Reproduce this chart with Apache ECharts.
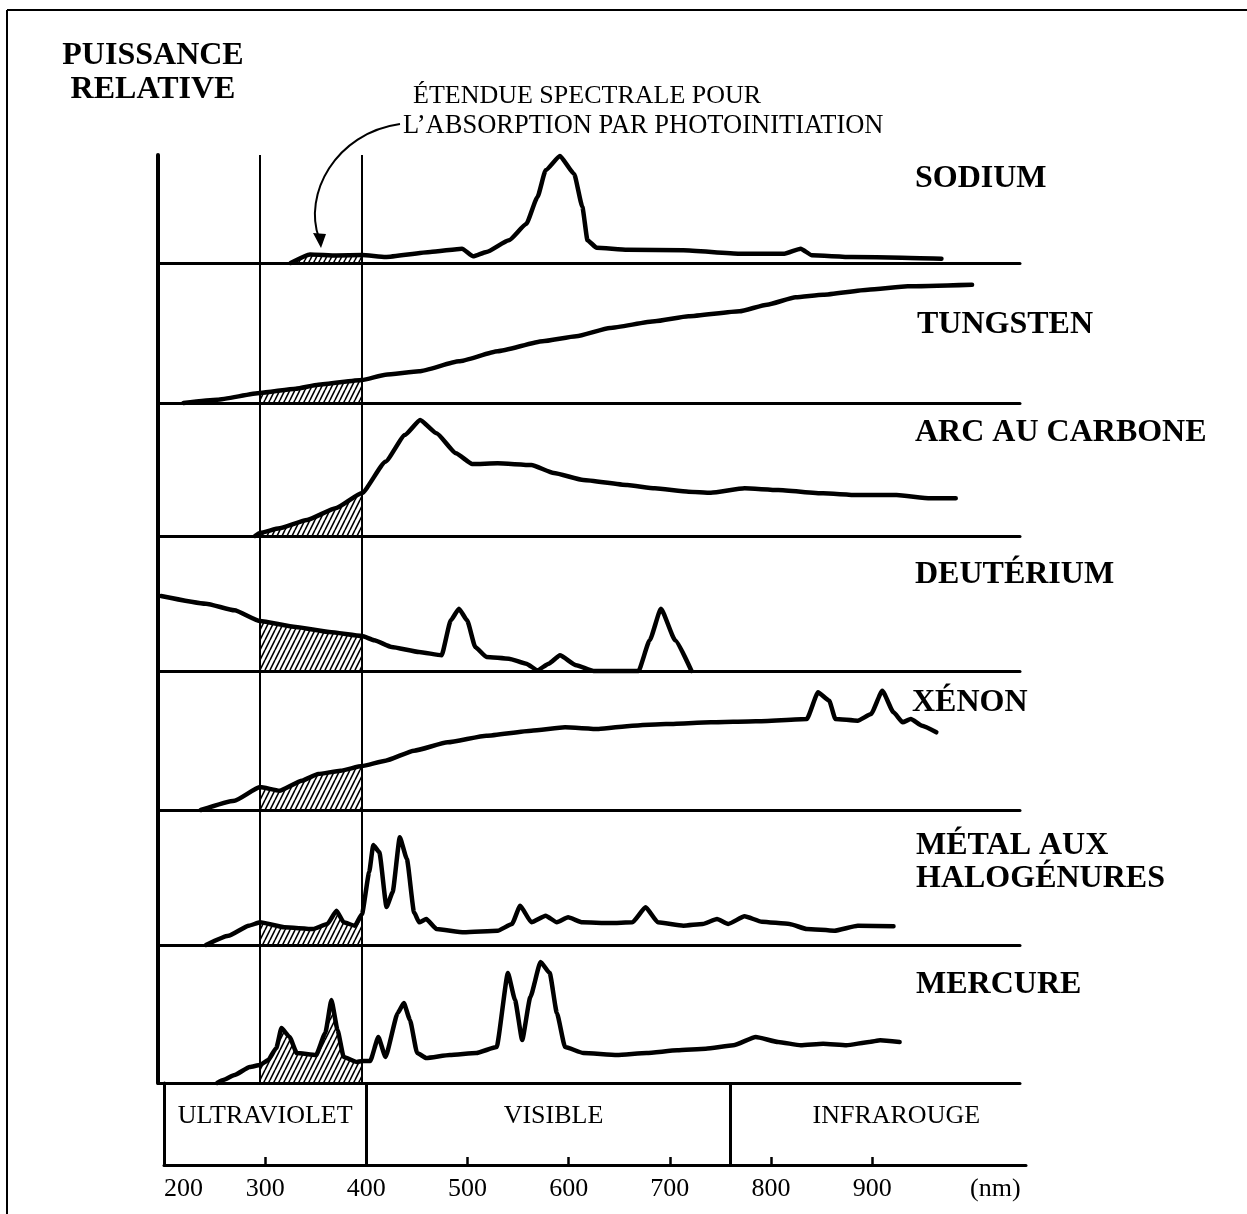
<!DOCTYPE html>
<html>
<head>
<meta charset="utf-8">
<title>Puissance relative des lampes</title>
<script src="https://cdn.jsdelivr.net/npm/echarts@6/dist/echarts.min.js"></script>
<style>
html, body { margin: 0; padding: 0; background: #fff; }
#chart { width: 1247px; height: 1214px; }
</style>
</head>
<body>
<div id="chart"></div>
<script>
// spectres : [longueur d'onde (nm), puissance relative]
var sodium = [[330,0],[349,8.5],[375,7.5],[400,8],[423,6],[467,11],[498,14.3],[509,6.7],[522,11],[544,22.7],[561,39],[572,66],[580,92.7],[594,107],[608,89],[616,56],[621,22.7],[630,15.3],[660,13.3],[715,12.7],[770,9.3],[814,9.3],[830,14.3],[841,7.7],[880,6],[929,5.3],[968,4.3]];
var tungsten = [[225,0],[258,3.3],[300,10],[335,14.3],[357,18.3],[400,23],[423,28.3],[456,31.7],[495,41.7],[533,51.7],[577,61.7],[610,66.7],[643,75],[687,81.7],[720,86.7],[770,91.7],[797,98.3],[825,105.7],[852,108.3],[896,113.3],[935,116.7],[998,118.3]];
var arc = [[295,0],[300,3],[319,7.7],[346,16],[374,27.7],[400,43],[423,74.3],[442,101],[457,116],[473,102.7],[492,82.7],[508,72],[533,72.7],[566,71],[588,63],[617,56],[660,51],[687,47.7],[720,44.3],[742,43.3],[775,47.7],[808,46],[852,42.7],[885,41],[924,41],[957,37.7],[982,37.7]];
var deuterium = [[203,75],[247,67.3],[275,60.7],[300,50],[335,44],[368,39],[400,35],[412,30.7],[429,24],[456,19],[478,15.7],[487,50.7],[495,62.3],[503,50.7],[511,24],[522,14],[544,12.3],[561,7.3],[572,0.7],[583,7.3],[594,15.7],[610,5.7],[627,0],[671,0],[682,30.7],[693,62.3],[707,30.7],[723,0]];
var xenon = [[242,0],[275,9.3],[300,23],[319,19.3],[341,29.3],[357,36],[379,39.3],[400,44],[423,49.3],[451,59.3],[484,67.7],[522,74.3],[566,79.3],[599,82.7],[632,81],[665,84.3],[698,86],[742,87.7],[786,88.7],[836,91],[847,117.7],[858,109.3],[864,91],[886,89.3],[899,96],[910,119.3],[921,97.7],[930,87.7],[938,91],[949,84.3],[963,77.7]];
var metalHalide = [[247,0],[269,9.3],[289,19.3],[300,22.7],[324,17.7],[352,16],[366,21],[375,34.3],[382,22.7],[393,19.3],[400,31],[407,72.7],[411,100],[417,92.7],[424,38],[430,52.7],[437,107.7],[444,86],[451,32.7],[456,22.7],[463,26],[473,16],[500,12.7],[533,14.3],[547,21],[555,39.3],[566,22.7],[580,29.3],[591,22.7],[602,27.7],[616,22.7],[643,22],[665,22.7],[678,37.7],[690,22.7],[715,19.3],[734,21],[748,26],[759,21],[775,28.7],[792,23.3],[819,21],[836,16],[863,14.3],[886,19.3],[921,18.7]];
var mercury = [[258,0],[264,3],[275,8],[290,16],[300,18],[308,23],[316,35],[321,55],[329,46],[336,30],[355,28],[364,50],[370,83],[376,53],[382,26],[395,21],[400,22],[408,22],[416,46],[423,26],[435,70],[441,80],[447,63],[454,30],[463,25],[486,28],[512,30],[532,36],[543,110],[550,83],[557,43],[565,86],[575,121],[584,110],[591,70],[599,36],[617,30],[650,28],[679,30],[709,32.7],[737,34.3],[764,37.7],[786,46],[808,41],[830,37.7],[852,39.3],[875,37.7],[897,41],[908,42.7],[927,41]];

var lampNames = ['SODIUM', 'TUNGSTEN', 'ARC AU CARBONE', 'DEUTÉRIUM', 'XÉNON', 'MÉTAL AUX\nHALOGÉNURES', 'MERCURE'];
var photoRange = [300, 400];          // étendue spectrale pour la photoinitiation
var bandEdges = [200, 400, 760, 1052];
var bandNames = ['ULTRAVIOLET', 'VISIBLE', 'INFRAROUGE'];
var tickValues = [300, 400, 500, 600, 700, 800, 900];
var labelValues = [200, 300, 400, 500, 600, 700, 800, 900];

// mise en page des panneaux : [haut, hauteur]
var panelBox = [[155,108],[263,140],[403,133],[536,135],[671,139],[810,135],[945,138]];
var nameY = [179, 325, 433, 575, 703, 862, 985];
var nameX = [915, 917, 915, 915, 912, 916, 916];
var bandOffset = [[0, -8], [5, -8], [18, -8]];

var serif = '"Liberation Serif", "Times New Roman", serif';

// motif hachuré
var hatch = document.createElement('canvas');
hatch.width = 5; hatch.height = 10;
var hc = hatch.getContext('2d');
hc.strokeStyle = '#000';
hc.lineWidth = 1.6;
hc.beginPath();
hc.moveTo(0, 10); hc.lineTo(5, 0);
hc.moveTo(-5, 10); hc.lineTo(0, 0);
hc.moveTo(5, 10); hc.lineTo(10, 0);
hc.stroke();

var panels = [sodium, tungsten, arc, deuterium, xenon, metalHalide, mercury];
var grids = [], xAxes = [], yAxes = [], series = [];

panels.forEach(function (data, i) {
    grids.push({ left: 158, width: 862, top: panelBox[i][0], height: panelBox[i][1] });
    xAxes.push({
        gridIndex: i, type: 'value', min: 200, max: 1045,
        axisLine: { lineStyle: { color: '#000', width: 3 } },
        axisTick: { show: false }, axisLabel: { show: false }, splitLine: { show: false }
    });
    yAxes.push({
        gridIndex: i, type: 'value', min: 0, max: panelBox[i][1],
        axisLine: { show: true, lineStyle: { color: '#000', width: 4 } },
        axisTick: { show: false }, axisLabel: { show: false }, splitLine: { show: false }
    });
    series.push({
        type: 'line', xAxisIndex: i, yAxisIndex: i, data: data,
        showSymbol: false, smooth: 0.15, smoothMonotone: 'x', clip: false, z: 3,
        lineStyle: { color: '#000', width: 4.5, join: 'round', cap: 'round' },
        markLine: {
            silent: true, symbol: ['none', 'none'], label: { show: false },
            lineStyle: { color: '#000', width: 2, type: 'solid' },
            data: photoRange.map(function (v) { return { xAxis: v }; })
        }
    });
    series.push({
        type: 'line', xAxisIndex: i, yAxisIndex: i,
        data: data.filter(function (p) { return p[0] >= photoRange[0] && p[0] <= photoRange[1]; }),
        showSymbol: false, smooth: 0.15, smoothMonotone: 'x', z: 2,
        lineStyle: { width: 0 },
        areaStyle: { color: { image: hatch, repeat: 'repeat' }, opacity: 1 }
    });
});

// bande UV / visible / IR avec l'axe des longueurs d'onde
grids.push({ left: 164, width: 862, top: 1083, height: 82 });
xAxes.push({
    gridIndex: 7, type: 'value', min: 200, max: 1052,
    axisLine: { lineStyle: { color: '#000', width: 3 } },
    axisTick: { inside: true, length: 8, customValues: tickValues, lineStyle: { color: '#000', width: 2.5 } },
    axisLabel: { customValues: labelValues, alignMinLabel: 'left', margin: 11, color: '#000', fontSize: 26, fontFamily: serif },
    splitLine: { show: false }
});
yAxes.push({
    gridIndex: 7, type: 'value', min: 0, max: 1,
    axisLine: { show: true, lineStyle: { color: '#000', width: 3 } },
    axisTick: { show: false }, axisLabel: { show: false }, splitLine: { show: false }
});
series.push({
    type: 'line', xAxisIndex: 7, yAxisIndex: 7, data: [],
    markLine: {
        silent: true, symbol: ['none', 'none'], label: { show: false },
        lineStyle: { color: '#000', width: 3, type: 'solid' },
        data: bandEdges.slice(1, 3).map(function (v) { return { xAxis: v }; })
    },
    markArea: {
        silent: true,
        itemStyle: { color: 'rgba(0,0,0,0)' },
        label: { show: true, position: 'inside', color: '#000', fontSize: 26, fontFamily: serif },
        data: bandNames.map(function (n, k) {
            return [{ xAxis: bandEdges[k], name: n, label: { offset: bandOffset[k] } }, { xAxis: bandEdges[k + 1] }];
        })
    }
});

var graphics = [
    { type: 'line', shape: { x1: 7, y1: 10, x2: 1247, y2: 10 }, style: { stroke: '#000', lineWidth: 2 } },
    { type: 'line', shape: { x1: 7, y1: 10, x2: 7, y2: 1214 }, style: { stroke: '#000', lineWidth: 2 } },
    { type: 'text', x: 153, y: 39, style: { text: 'PUISSANCE\nRELATIVE', font: 'bold 32px ' + serif, fill: '#000', textAlign: 'center', lineHeight: 34 } },
    { type: 'text', x: 413, y: 96, style: { text: 'ÉTENDUE SPECTRALE POUR', font: '26px ' + serif, fill: '#000', textAlign: 'left', verticalAlign: 'middle' } },
    { type: 'text', x: 403, y: 126, style: { text: 'L’ABSORPTION PAR PHOTOINITIATION', font: '26.5px ' + serif, fill: '#000', textAlign: 'left', verticalAlign: 'middle' } },
    { type: 'bezierCurve', shape: { x1: 400, y1: 124, cpx1: 335, cpy1: 133, cpx2: 303, cpy2: 195, x2: 319, y2: 238 }, style: { stroke: '#000', lineWidth: 2, fill: null } },
    { type: 'polygon', shape: { points: [[313, 233], [326, 234], [321, 248]] }, style: { fill: '#000' } },
    { type: 'text', x: 970, y: 1189, style: { text: '(nm)', font: '26px ' + serif, fill: '#000', textAlign: 'left', verticalAlign: 'middle' } }
];
lampNames.forEach(function (n, i) {
    graphics.push({ type: 'text', x: nameX[i], y: nameY[i], style: { text: n, font: 'bold 32px ' + serif, fill: '#000', textAlign: 'left', verticalAlign: 'middle', lineHeight: 33 } });
});

var option = {
    backgroundColor: '#fff',
    animation: false,
    grid: grids,
    xAxis: xAxes,
    yAxis: yAxes,
    series: series,
    graphic: graphics
};

var myChart = echarts.init(document.getElementById('chart'));
myChart.setOption(option);
</script>
</body>
</html>
